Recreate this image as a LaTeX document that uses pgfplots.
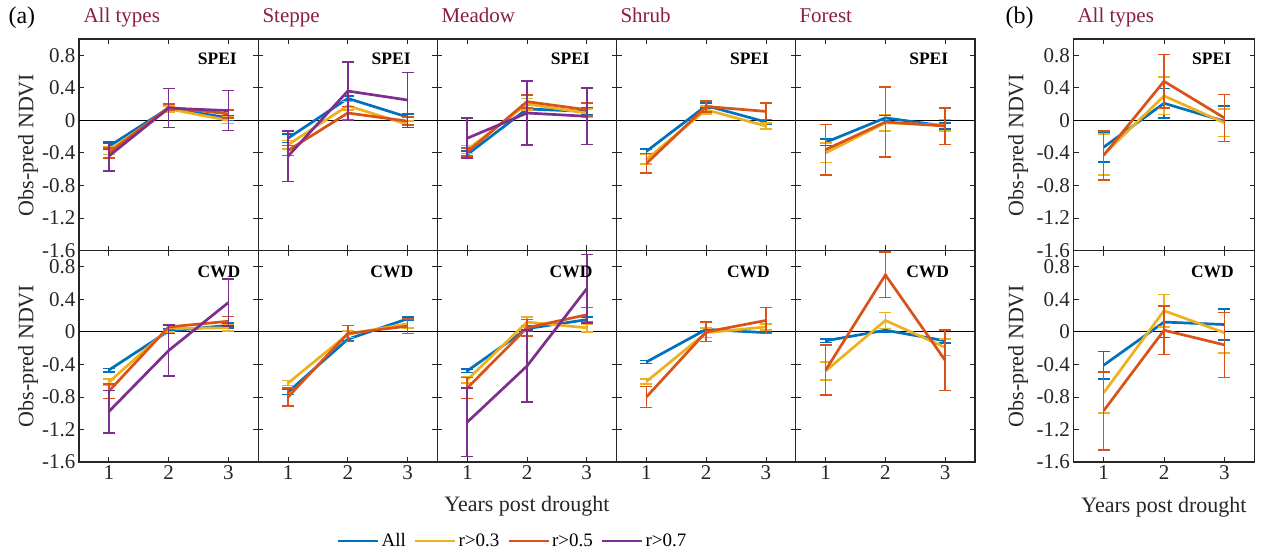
\documentclass[border=0pt]{standalone}
\usepackage{pgfplots}
\pgfplotsset{compat=1.18}
\usepackage{fontspec}
\setmainfont{Liberation Serif}
\definecolor{cAll}{RGB}{0,114,189}
\definecolor{cA}{RGB}{237,177,32}
\definecolor{cB}{RGB}{217,83,25}
\definecolor{cC}{RGB}{126,47,142}
\definecolor{ttl}{RGB}{140,30,60}
\definecolor{axc}{RGB}{38,38,38}
\pgfplotsset{
  panel/.style={
    scale only axis, width=179.2pt, height=211.5pt,
    xmin=0.5, xmax=3.5, ymin=-1.6, ymax=1.0,
    xtick={1,2,3}, ytick={-1.6,-1.2,-0.8,-0.4,0,0.4,0.8},
    yticklabels={-1.6,-1.2,-0.8,-0.4,0,0.4,0.8},
    xticklabels={1,2,3},
    tick align=inside, major tick length=5pt,
    tick style={axc, line width=0.8pt},
    axis line style={axc, line width=1.2pt},
    ticklabel style={font=\fontsize{21}{21}\selectfont, text=axc},
    clip=false,
    anchor=south west,
    legend image code/.code={\draw[#1] (0pt,0pt) -- (40pt,0pt);},
  },
  noxl/.style={xticklabels={}},
  noyl/.style={yticklabels={}},
  eb/.style={line width=2.7pt, mark=none, #1,
    error bars/.cd, y dir=both, y explicit,
    error bar style={line width=1.6pt},
    error mark options={rotate=90, mark size=6pt, line width=1.6pt}},
}
\newcommand{\zeroline}{\draw[black, line width=0.8pt] (axis cs:0.5,0) -- (axis cs:3.5,0);}
\begin{document}
\begin{tikzpicture}[x=1pt,y=1pt]
\useasboundingbox (0,0) rectangle (1268,555);
% ---------- Top row (SPEI) ----------
\begin{axis}[panel, noxl, at={(79pt,304.5pt)}]
\zeroline
\addplot[eb=cAll] coordinates {(1,-0.32) +- (0,0.04) (2,0.15) +- (0,0.03) (3,0.03) +- (0,0.03)};
\addplot[eb=cA] coordinates {(1,-0.37) +- (0,0.05) (2,0.14) +- (0,0.04) (3,0.00) +- (0,0.04)};
\addplot[eb=cB] coordinates {(1,-0.40) +- (0,0.06) (2,0.16) +- (0,0.04) (3,0.08) +- (0,0.05)};
\addplot[eb=cC] coordinates {(1,-0.44) +- (0,0.18) (2,0.15) +- (0,0.24) (3,0.12) +- (0,0.245)};
\node[anchor=north east, font=\fontsize{17.5}{17.5}\selectfont\bfseries] at (rel axis cs:0.9,0.95) {SPEI};
\end{axis}
\begin{axis}[panel, noxl, noyl, at={(258.2pt,304.5pt)}]
\zeroline
\addplot[eb=cAll] coordinates {(1,-0.22) +- (0,0.05) (2,0.27) +- (0,0.03) (3,0.04) +- (0,0.04)};
\addplot[eb=cA] coordinates {(1,-0.30) +- (0,0.05) (2,0.18) +- (0,0.05) (3,-0.05) +- (0,0.04)};
\addplot[eb=cB] coordinates {(1,-0.37) +- (0,0.06) (2,0.09) +- (0,0.08) (3,-0.01) +- (0,0.05)};
\addplot[eb=cC] coordinates {(1,-0.44) +- (0,0.31) (2,0.36) +- (0,0.36) (3,0.25) +- (0,0.34)};
\node[anchor=north east, font=\fontsize{17.5}{17.5}\selectfont\bfseries] at (rel axis cs:0.87,0.95) {SPEI};
\end{axis}
\begin{axis}[panel, noxl, noyl, at={(437.4pt,304.5pt)}]
\zeroline
\addplot[eb=cAll] coordinates {(1,-0.42) +- (0,0.04) (2,0.14) +- (0,0.05) (3,0.11) +- (0,0.04)};
\addplot[eb=cA] coordinates {(1,-0.36) +- (0,0.05) (2,0.20) +- (0,0.07) (3,0.09) +- (0,0.05)};
\addplot[eb=cB] coordinates {(1,-0.39) +- (0,0.05) (2,0.23) +- (0,0.08) (3,0.13) +- (0,0.08)};
\addplot[eb=cC] coordinates {(1,-0.22) +- (0,0.25) (2,0.09) +- (0,0.39) (3,0.05) +- (0,0.345)};
\node[anchor=north east, font=\fontsize{17.5}{17.5}\selectfont\bfseries] at (rel axis cs:0.87,0.95) {SPEI};
\end{axis}
\begin{axis}[panel, noxl, noyl, at={(616.6pt,304.5pt)}]
\zeroline
\addplot[eb=cAll] coordinates {(1,-0.38) +- (0,0.03) (2,0.18) +- (0,0.03) (3,-0.02) +- (0,0.03)};
\addplot[eb=cA] coordinates {(1,-0.48) +- (0,0.06) (2,0.13) +- (0,0.05) (3,-0.07) +- (0,0.04)};
\addplot[eb=cB] coordinates {(1,-0.53) +- (0,0.12) (2,0.17) +- (0,0.07) (3,0.11) +- (0,0.10)};
\node[anchor=north east, font=\fontsize{17.5}{17.5}\selectfont\bfseries] at (rel axis cs:0.87,0.95) {SPEI};
\end{axis}
\begin{axis}[panel, noxl, noyl, at={(795.8pt,304.5pt)}]
\zeroline
\addplot[eb=cAll] coordinates {(1,-0.27) +- (0,0.04) (2,0.03) +- (0,0.03) (3,-0.07) +- (0,0.04)};
\addplot[eb=cA] coordinates {(1,-0.40) +- (0,0.12) (2,-0.03) +- (0,0.10) (3,-0.06) +- (0,0.07)};
\addplot[eb=cB] coordinates {(1,-0.36) +- (0,0.31) (2,-0.02) +- (0,0.43) (3,-0.07) +- (0,0.225)};
\node[anchor=north east, font=\fontsize{17.5}{17.5}\selectfont\bfseries] at (rel axis cs:0.87,0.95) {SPEI};
\end{axis}
% ---------- Bottom row (CWD) ----------
\begin{axis}[panel, at={(79pt,93pt)}]
\zeroline
\addplot[eb=cAll] coordinates {(1,-0.47) +- (0,0.02) (2,0.01) +- (0,0.03) (3,0.08) +- (0,0.03)};
\addplot[eb=cA] coordinates {(1,-0.62) +- (0,0.04) (2,0.04) +- (0,0.04) (3,0.05) +- (0,0.04)};
\addplot[eb=cB] coordinates {(1,-0.73) +- (0,0.09) (2,0.06) +- (0,0.03) (3,0.13) +- (0,0.06)};
\addplot[eb=cC] coordinates {(1,-0.98) +- (0,0.26) (2,-0.23) +- (0,0.315) (3,0.36) +- (0,0.29)};
\node[anchor=north east, font=\fontsize{17.5}{17.5}\selectfont\bfseries] at (rel axis cs:0.92,0.946) {CWD};
\end{axis}
\begin{axis}[panel, noyl, at={(258.2pt,93pt)}]
\zeroline
\addplot[eb=cAll] coordinates {(1,-0.74) +- (0,0.03) (2,-0.09) +- (0,0.02) (3,0.16) +- (0,0.02)};
\addplot[eb=cA] coordinates {(1,-0.63) +- (0,0.03) (2,-0.03) +- (0,0.04) (3,0.10) +- (0,0.05)};
\addplot[eb=cB] coordinates {(1,-0.80) +- (0,0.11) (2,-0.02) +- (0,0.10) (3,0.07) +- (0,0.09)};
\node[anchor=north east, font=\fontsize{17.5}{17.5}\selectfont\bfseries] at (rel axis cs:0.885,0.946) {CWD};
\end{axis}
\begin{axis}[panel, noyl, at={(437.4pt,93pt)},
  legend columns=4,
  legend style={draw=none, fill=none, at={(rel axis cs:0.42,-0.374)}, anchor=center,
    font=\fontsize{19}{19}\selectfont, /tikz/every even column/.append style={column sep=6pt}}]
\zeroline
\addplot[eb=cAll] coordinates {(1,-0.48) +- (0,0.02) (2,0.04) +- (0,0.03) (3,0.15) +- (0,0.03)};
\addplot[eb=cA] coordinates {(1,-0.59) +- (0,0.04) (2,0.12) +- (0,0.06) (3,0.05) +- (0,0.05)};
\addplot[eb=cB] coordinates {(1,-0.69) +- (0,0.13) (2,0.05) +- (0,0.10) (3,0.21) +- (0,0.09)};
\addplot[eb=cC] coordinates {(1,-1.11) +- (0,0.42) (2,-0.42) +- (0,0.44) (3,0.53) +- (0,0.42)};
\legend{All, r>0.3, r>0.5, r>0.7}
\node[anchor=north east, font=\fontsize{17.5}{17.5}\selectfont\bfseries] at (rel axis cs:0.885,0.946) {CWD};
\end{axis}
\begin{axis}[panel, noyl, at={(616.6pt,93pt)}]
\zeroline
\addplot[eb=cAll] coordinates {(1,-0.37) +- (0,0.02) (2,0.03) +- (0,0.02) (3,-0.01) +- (0,0.01)};
\addplot[eb=cA] coordinates {(1,-0.61) +- (0,0.03) (2,-0.01) +- (0,0.06) (3,0.06) +- (0,0.04)};
\addplot[eb=cB] coordinates {(1,-0.80) +- (0,0.13) (2,0.00) +- (0,0.12) (3,0.14) +- (0,0.16)};
\node[anchor=north east, font=\fontsize{17.5}{17.5}\selectfont\bfseries] at (rel axis cs:0.875,0.946) {CWD};
\end{axis}
\begin{axis}[panel, noyl, at={(795.8pt,93pt)}]
\zeroline
\addplot[eb=cAll] coordinates {(1,-0.11) +- (0,0.02) (2,0.02) +- (0,0.02) (3,-0.11) +- (0,0.03)};
\addplot[eb=cA] coordinates {(1,-0.48) +- (0,0.11) (2,0.14) +- (0,0.10) (3,-0.19) +- (0,0.10)};
\addplot[eb=cB] coordinates {(1,-0.47) +- (0,0.31) (2,0.70) +- (0,0.28) (3,-0.35) +- (0,0.37)};
\node[anchor=north east, font=\fontsize{17.5}{17.5}\selectfont\bfseries] at (rel axis cs:0.875,0.946) {CWD};
\end{axis}
% ---------- Panel (b) ----------
\begin{axis}[panel, noxl, width=181pt, at={(1073.5pt,304.5pt)}]
\zeroline
\addplot[eb=cAll] coordinates {(1,-0.33) +- (0,0.18) (2,0.21) +- (0,0.18) (3,-0.01) +- (0,0.19)};
\addplot[eb=cA] coordinates {(1,-0.42) +- (0,0.25) (2,0.30) +- (0,0.23) (3,-0.03) +- (0,0.17)};
\addplot[eb=cB] coordinates {(1,-0.43) +- (0,0.30) (2,0.48) +- (0,0.33) (3,0.03) +- (0,0.29)};
\node[anchor=north east, font=\fontsize{17.5}{17.5}\selectfont\bfseries] at (rel axis cs:0.89,0.95) {SPEI};
\end{axis}
\begin{axis}[panel, width=181pt, at={(1073.5pt,93pt)}]
\zeroline
\addplot[eb=cAll] coordinates {(1,-0.41) +- (0,0.17) (2,0.12) +- (0,0.19) (3,0.09) +- (0,0.19)};
\addplot[eb=cA] coordinates {(1,-0.75) +- (0,0.25) (2,0.26) +- (0,0.20) (3,-0.01) +- (0,0.25)};
\addplot[eb=cB] coordinates {(1,-0.97) +- (0,0.48) (2,0.02) +- (0,0.30) (3,-0.16) +- (0,0.40)};
\node[anchor=north east, font=\fontsize{17.5}{17.5}\selectfont\bfseries] at (rel axis cs:0.905,0.946) {CWD};
\end{axis}
% ---------- Texts ----------
\node[anchor=base west, font=\fontsize{24}{24}\selectfont] at (5,531) {(a)};
\node[anchor=base west, font=\fontsize{24}{24}\selectfont] at (1002,531) {(b)};
\begin{scope}[every node/.style={anchor=base west, text=ttl, font=\fontsize{21}{21}\selectfont}]
\node at (80,532) {All types};
\node at (259,532) {Steppe};
\node at (438,532) {Meadow};
\node at (617,532) {Shrub};
\node at (796,532) {Forest};
\node at (1074,532) {All types};
\end{scope}
\begin{scope}[every node/.style={rotate=90, anchor=center, text=axc, font=\fontsize{22}{22}\selectfont}]
\node at (28,410) {Obs-pred NDVI};
\node at (28,199) {Obs-pred NDVI};
\node at (1018,410) {Obs-pred NDVI};
\node at (1018,199) {Obs-pred NDVI};
\end{scope}
\node[anchor=center, text=axc, font=\fontsize{22}{22}\selectfont] at (527,49) {Years post drought};
\node[anchor=center, text=axc, font=\fontsize{22}{22}\selectfont] at (1164,48) {Years post drought};
\end{tikzpicture}
\end{document}
